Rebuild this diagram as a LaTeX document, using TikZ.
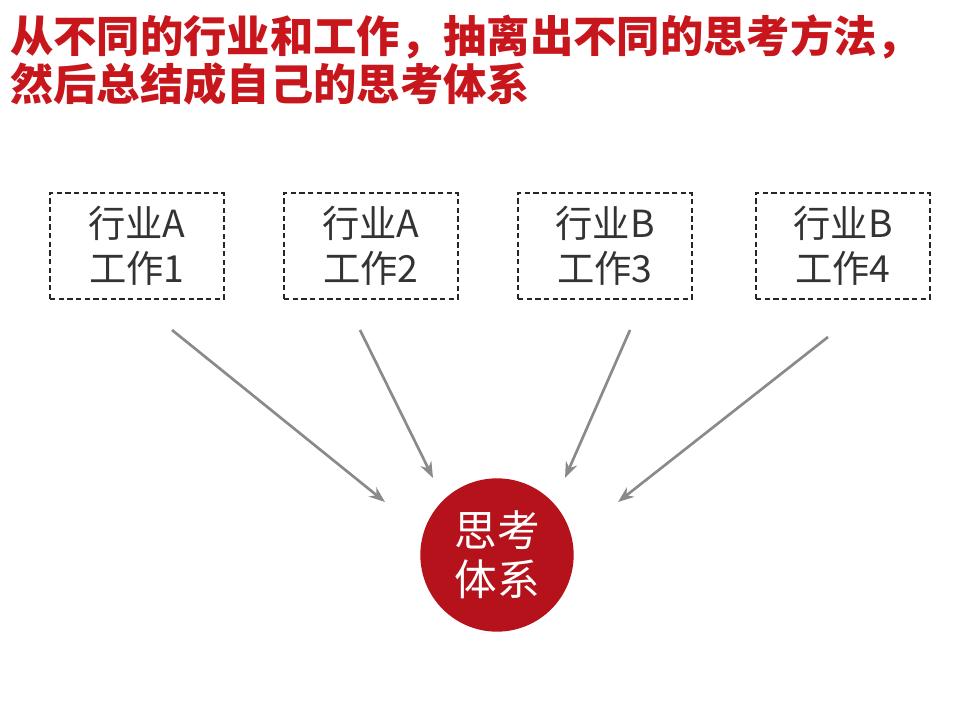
\documentclass[tikz,border=0pt]{standalone}
\usepackage{fontspec}
\setmainfont{Noto Sans CJK SC}
\usetikzlibrary{positioning,arrows.meta}
\definecolor{titlered}{HTML}{C8161D}
\definecolor{discred}{HTML}{B5121B}
\definecolor{arrowgray}{HTML}{8A8A8A}
\tikzset{
	jobbox/.style={draw=black!85,dash pattern=on 4pt off 2.5pt,line width=1.4pt,minimum width=130.5pt,minimum height=79.5pt,align=center,font=\fontsize{28}{34}\selectfont,text=black!80},
	feed/.style={draw=arrowgray,line width=2pt,-{Stealth[length=12pt,width=9pt]}},
}
\begin{document}
\begin{tikzpicture}[x=0.75pt,y=-0.75pt]
			\useasboundingbox (0,0) rectangle (960,720);
			
			% title....................
			\node [anchor=north west,align=left,inner sep=0pt,text=titlered,font=\fontsize{32.5}{36}\selectfont\bfseries] (title) at (10,14)
				{从不同的行业和工作，抽离出不同的思考方法，\\然后总结成自己的思考体系};
			
			% boxes....................
			\node [jobbox] (job1) at (137,246) {行业A\\工作1};
			\node [jobbox] (job2) at (371,246) {行业A\\工作2};
			\node [jobbox] (job3) at (605,246) {行业B\\工作3};
			\node [jobbox] (job4) at (843,246) {行业B\\工作4};
			
			% circle...................
			\node [circle,fill=discred,minimum size=115pt,text=white,align=center,font=\fontsize{32}{37}\selectfont] (core) at (497,555) {思考\\体系};
			
			% arrows...................
			\coordinate (s1) at (172,330); \coordinate (e1) at (385,502);
			\coordinate (s2) at (360,330); \coordinate (e2) at (433,478);
			\coordinate (s3) at (630,330); \coordinate (e3) at (565,478);
			\coordinate (s4) at (828,337); \coordinate (e4) at (618,502);
			\foreach \i in {1,...,4}
				\draw [feed] (s\i) -- (e\i);
		\end{tikzpicture}
\end{document}
